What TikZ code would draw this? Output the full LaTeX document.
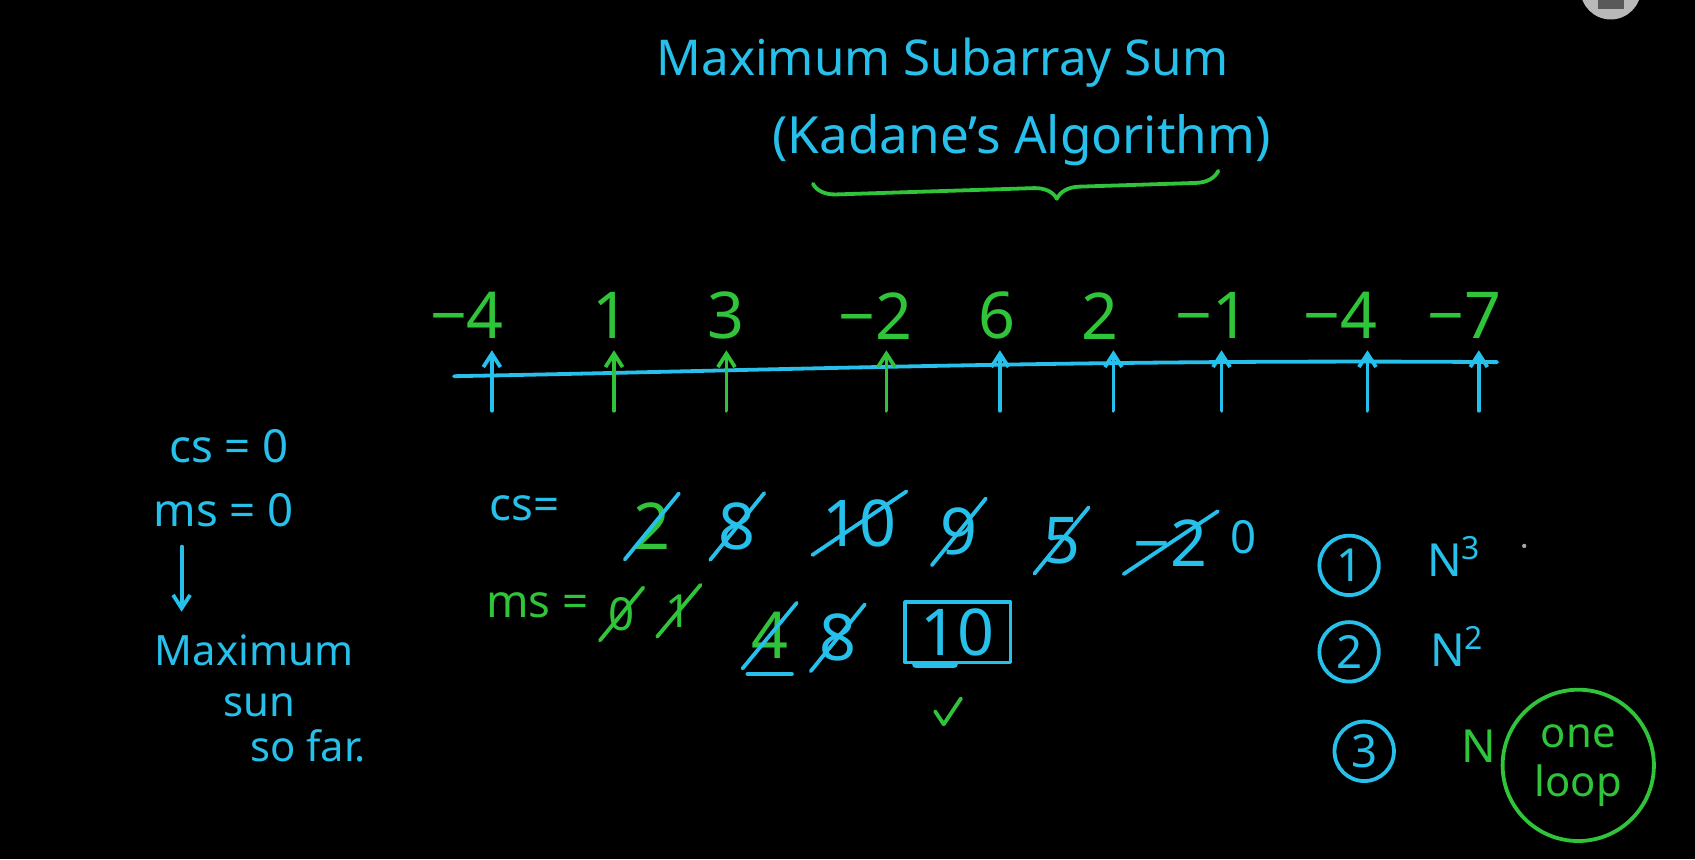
\documentclass[tikz,border=0pt]{standalone}
\usepackage{fontspec}
\setmainfont{Noto Sans}
\usetikzlibrary{arrows.meta,decorations.pathreplacing,positioning}
\definecolor{chalkcyan}{RGB}{38,192,235}
\definecolor{chalkgreen}{RGB}{48,196,58}

\begin{document}
\begin{tikzpicture}[x=0.02cm, y=-0.02cm, line width=2pt, line cap=round, line join=round,
    cy/.style = {text=chalkcyan},
    gr/.style = {text=chalkgreen},
    huge/.style = {font=\fontsize{34}{40}\selectfont},
    big/.style = {font=\fontsize{26}{30}\selectfont},
    mid/.style = {font=\fontsize{24}{28}\selectfont},
    small/.style = {font=\fontsize{22}{26}\selectfont},
    val/.style = {huge, inner sep=1pt},
    strike/.style = {shorten <=-4pt, shorten >=-4pt},
    ring/.style = {draw=chalkcyan, circle, cy, mid, inner sep=0pt, minimum size=1.1cm},
    tick/.style = {-{Straight Barb[length=7pt,width=9pt]}}]

    \useasboundingbox (0,0) rectangle (1568,795);
    \fill[black] (0,0) rectangle (1568,795);
    % corner button of the player
    \fill[gray!55] (1490,-10) circle (28);
    \fill[black!65] (1478,-10) rectangle (1502,8);

    % heading
    \node[cy, big] (title) at (872,58) {Maximum Subarray Sum};
    \node[cy, big, font=\fontsize{27}{31}\selectfont] (kad) at (945,130) {(Kadane's Algorithm)};
    \coordinate (braceL) at (752,170);
    \coordinate (braceR) at (1127,158);
    \draw[chalkgreen, decorate, decoration={brace, mirror, amplitude=12pt, aspect=0.6}] (braceL) -- (braceR);

    % the array on a line
    \coordinate (lineL) at (420,348);
    \coordinate (lineR) at (1385,335);
    \draw[chalkcyan] (lineL) .. controls (700,343) and (1000,332) .. (lineR);
    \foreach \x/\lx/\v/\c [count=\i] in {455/432/−4/chalkcyan, 568/565/1/chalkgreen,
        672/672/3/chalkgreen, 820/810/−2/chalkgreen, 925/922/6/chalkcyan,
        1030/1018/2/chalkcyan, 1130/1122/−1/chalkcyan, 1265/1240/−4/chalkcyan,
        1368/1355/−7/chalkcyan} {
        \node[gr, huge] (num\i) at (\lx,292) {\v};
        \coordinate (foot\i) at (\x,380);
        \coordinate (head\i) at (\x,324);
        \draw[\c, tick] (foot\i) -- (head\i);
    }

    % starting values
    \node[cy, mid] (cs0) at (212,413) {cs = 0};
    \node[cy, mid] (ms0) at (207,472) {ms = 0};
    \node[cy, small] (maxA) at (235,602) {Maximum};
    \node[cy, small] (maxB) at (240,652) {sun};
    \node[cy, small] (maxC) at (285,690) {so far.};
    \coordinate (dn) at (168,0);
    \draw[chalkcyan, tick] ([yshift=-6pt]ms0.south -| dn) -- ([yshift=8pt]maxA.north -| dn);

    % current sum row
    \node[cy, mid] (csl) at (485,470) {cs=};
    \node[gr, val] (c1) at (603,487) {2};
    \node[cy, val] (c2) at (682,487) {8};
    \node[cy, val] (c3) at (795,484) {10};
    \node[cy, val] (c4) at (887,492) {9};
    \node[cy, val] (c5) at (982,500) {5};
    \node[cy, val] (c6) at (1083,502) {−2};
    \node[cy, mid] (c7) at (1150,497) {0};
    \foreach \n in {c1,c2,c3,c4,c5,c6}
        \draw[chalkcyan, strike] (\n.south west) -- (\n.north east);

    % max sum row
    \node[gr, mid] (msl) at (497,560) {ms =};
    \node[gr, mid, inner sep=1pt] (m1) at (575,568) {0};
    \node[gr, mid, inner sep=1pt] (m2) at (628,565) {1};
    \node[gr, val] (m3) at (712,588) {4};
    \node[cy, val] (m4) at (775,590) {8};
    \node[cy, huge, draw=chalkcyan, minimum width=1.95cm, minimum height=1.05cm] (m5) at (886,585) {10};
    \draw[chalkgreen, strike] (m1.south west) -- (m1.north east);
    \draw[chalkgreen, strike] (m2.south west) -- (m2.north east);
    \draw[chalkcyan, strike] (m3.south west) -- (m3.north east);
    \draw[chalkcyan, strike] (m4.south west) -- (m4.north east);
    \draw[chalkcyan] ([yshift=-6pt]m3.south west) -- ([yshift=-6pt]m3.south east);
    \draw[chalkcyan, line width=4pt] ([xshift=-22pt]m5.south) -- ([xshift=-2pt]m5.south);
    \coordinate (chk) at (875,660);
    \draw[chalkgreen] (chk) ++(-10,-2) -- ++(8,12) -- ++(16,-24);

    % approaches
    \node[ring] (o1) at (1248,523) {1};
    \node[ring] (o2) at (1248,603) {2};
    \node[ring] (o3) at (1262,695) {3};
    \node[cy, mid] (n1) at (1345,515) {N\textsuperscript{3}};
    \node[cy, mid] (n2) at (1348,598) {N\textsuperscript{2}};
    \node[gr, mid] (n3) at (1368,690) {N};
    \node[gr, small, draw=chalkgreen, circle, minimum size=2.8cm, align=center] (loop) at (1460,708) {one\\loop};
    \fill[gray!70] (1410,505) circle (2);
\end{tikzpicture}
\end{document}
